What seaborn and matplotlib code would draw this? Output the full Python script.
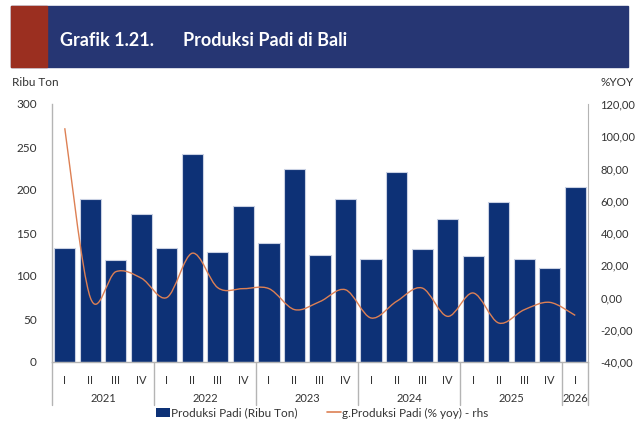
import numpy as np
import pandas as pd
import matplotlib
matplotlib.use('Agg')
import matplotlib.pyplot as plt
import seaborn as sns
from matplotlib.path import Path
from matplotlib.patches import PathPatch, Patch, Rectangle
from matplotlib.lines import Line2D
from matplotlib.ticker import FuncFormatter, MultipleLocator
import matplotlib.transforms as mtransforms

# data
years = ['2021', '2022', '2023', '2024', '2025', '2026']
quarters = ['I', 'II', 'III', 'IV'] * 5 + ['I']
produksi = [132, 190, 119, 172,
            132, 242, 128, 181,
            138, 224, 125, 189,
            120, 221, 131, 166,
            123, 186, 120, 109,
            203]
growth = [105.0, 0.0, 16.0, 12.0,
          0.0, 27.5, 6.0, 5.5,
          5.5, -7.5, -2.5, 4.8,
          -12.7, -2.4, 5.9, -11.7,
          2.8, -15.8, -7.6, -3.0,
          -11.1]

periods = [f'{years[i // 4]} {q}' for i, q in enumerate(quarters)]
df = pd.DataFrame({'periode': periods, 'kuartal': quarters,
                   'produksi': produksi, 'growth': growth})

NAVY = '#0d3176'
BANNER = '#263673'
RED = '#9b2f20'
ORANGE = '#dd8054'
GREY = '#b4b4b4'
TXT = '#333333'

sns.set_style('white')
plt.rcParams['font.family'] = ['Lato', 'DejaVu Sans']

fig = plt.figure(figsize=(6.38, 4.30), dpi=100)
W, H = 638, 430

# title banner
fig.patches.append(Rectangle((11 / W, 1 - 67 / H), 617 / W, 61 / H, transform=fig.transFigure,
                             color=BANNER, zorder=0))
fig.patches.append(Rectangle((11 / W, 1 - 67 / H), 36 / W, 61 / H, transform=fig.transFigure,
                             color=RED, zorder=1))
fig.text(60 / W, 1 - 40 / H, 'Grafik 1.21.', color='white', fontsize=13, fontweight='bold',
         va='center', ha='left')
fig.text(183 / W, 1 - 40 / H, 'Produksi Padi di Bali', color='white', fontsize=13,
         fontweight='bold', va='center', ha='left')

ax = fig.add_axes([52 / W, 1 - 362 / H, 536 / W, 258 / H])
sns.barplot(data=df, x='periode', y='produksi', order=periods, color=NAVY, width=0.83,
            edgecolor='#c9d1e3', linewidth=0.8, saturation=1, ax=ax)
ax.set_xlim(-0.5, len(periods) - 0.5)
ax.set_ylim(0, 300)
ax.yaxis.set_major_locator(MultipleLocator(50))
ax.set_xlabel('')
ax.set_ylabel('')
ax.set_xticks(range(len(periods)))
ax.set_xticklabels(quarters)
ax.tick_params(axis='x', length=0, pad=9, labelsize=8, colors=TXT)
ax.tick_params(axis='y', length=0, pad=11, labelsize=8.5, colors=TXT)
for s in ['top', 'right']:
    ax.spines[s].set_visible(False)
for s in ['left', 'bottom']:
    ax.spines[s].set_color(GREY)
    ax.spines[s].set_linewidth(1)

ax2 = ax.twinx()
ax2.set_ylim(-40, 120)
ax2.yaxis.set_major_locator(MultipleLocator(20))
ax2.yaxis.set_major_formatter(FuncFormatter(lambda v, p: f'{v:.2f}'.replace('.', ',')))
ax2.tick_params(axis='y', length=0, pad=9, labelsize=8, colors=TXT)
for s in ['top', 'left', 'bottom']:
    ax2.spines[s].set_visible(False)
ax2.spines['right'].set_color(GREY)

# smoothed line (Excel style): cubic bezier through the data points
xs = np.arange(len(growth), dtype=float)
ys = np.array(growth, dtype=float)
verts = [(xs[0], ys[0])]
codes = [Path.MOVETO]
n = len(xs)
for i in range(n - 1):
    p0 = np.array([xs[max(i - 1, 0)], ys[max(i - 1, 0)]])
    p1 = np.array([xs[i], ys[i]])
    p2 = np.array([xs[i + 1], ys[i + 1]])
    p3 = np.array([xs[min(i + 2, n - 1)], ys[min(i + 2, n - 1)]])
    c1 = p1 + (p2 - p0) / 6
    c2 = p2 - (p3 - p1) / 6
    verts += [tuple(c1), tuple(c2), tuple(p2)]
    codes += [Path.CURVE4] * 3
ax2.add_patch(PathPatch(Path(verts, codes), facecolor='none', edgecolor=ORANGE, lw=1.0))

# year labels and separators below the axis
trans = mtransforms.blended_transform_factory(ax.transData, ax.transAxes)
sep_bottom = -43 / 258
for b in [-0.5, 3.5, 7.5, 11.5, 15.5, 19.5, 20.5]:
    ax.plot([b, b], [0, sep_bottom], transform=trans, color=GREY, lw=1, clip_on=False)
for i, y in enumerate(years):
    start = i * 4
    end = min(start + 3, len(periods) - 1)
    ax.text((start + end) / 2, -36 / 258, y, transform=trans, ha='center', va='center',
            fontsize=8, color=TXT)

fig.text(12 / W, 1 - 83 / H, 'Ribu Ton', fontsize=8.5, color=TXT, va='center', ha='left')
fig.text(634 / W, 1 - 83 / H, '%YOY', fontsize=8.5, color=TXT, va='center', ha='right')

handles = [Patch(facecolor=NAVY, edgecolor='none'),
           Line2D([0], [0], color=ORANGE, lw=1.2)]
fig.legend(handles, ['Produksi Padi (Ribu Ton)', 'g.Produksi Padi (% yoy) - rhs'],
           loc='center', bbox_to_anchor=(322 / W, 1 - 413 / H), ncol=2, frameon=False,
           fontsize=8.5, handlelength=1.2, handletextpad=0.1, columnspacing=2.5,
           handleheight=0.8, labelcolor=TXT)

fig.savefig('out.png', dpi=100)
